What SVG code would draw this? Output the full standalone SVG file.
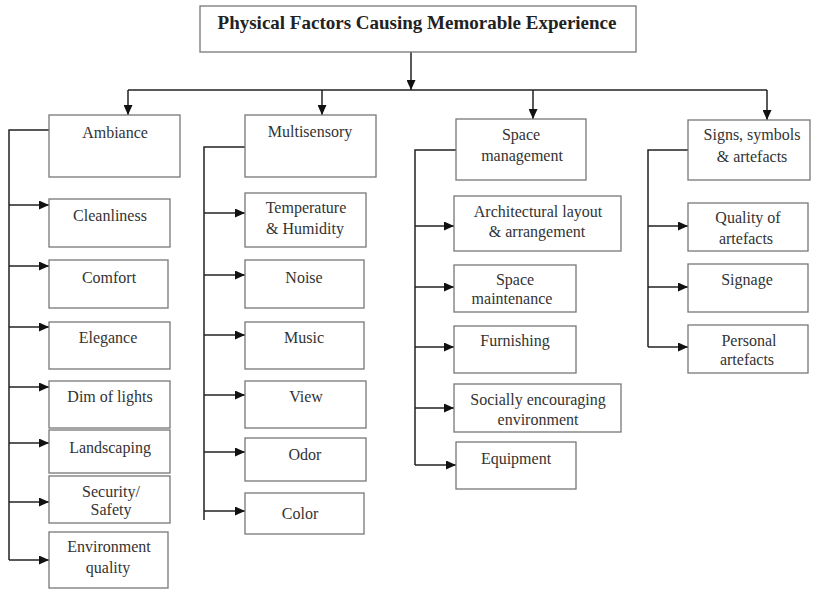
<svg xmlns="http://www.w3.org/2000/svg" width="815" height="589" viewBox="0 0 815 589">
<style>
.box{fill:#fff;stroke:#777;stroke-width:1.3}
.t{font-family:"Liberation Serif","Times New Roman",serif;font-size:16px;fill:#333;text-anchor:middle}
.title{font-family:"Liberation Serif","Times New Roman",serif;font-size:19px;font-weight:bold;fill:#222;text-anchor:middle}
.c{fill:none;stroke:#222;stroke-width:1.5}
.a{marker-end:url(#ah)}
</style>
<defs>
<marker id="ah" markerUnits="userSpaceOnUse" markerWidth="10" markerHeight="9" refX="10" refY="4.5" orient="auto" viewBox="0 0 10 9">
<path d="M0,0 L10,4.5 L0,9 z" fill="#111"/>
</marker>
</defs>
<rect width="815" height="589" fill="#fff"/>
<g id="connectors">
<path class="c a" d="M411,52 V90"/>
<path class="c" d="M128,90 H767"/>
<path class="c a" d="M128,90 V115"/>
<path class="c a" d="M322,90 V115"/>
<path class="c a" d="M533,90 V119"/>
<path class="c a" d="M767,90 V120"/>
<path class="c" d="M49,130 H9 V560"/>
<path class="c a" d="M9,205 H49"/>
<path class="c a" d="M9,266 H49"/>
<path class="c a" d="M9,327 H49"/>
<path class="c a" d="M9,387 H49"/>
<path class="c a" d="M9,443 H49"/>
<path class="c a" d="M9,502 H49"/>
<path class="c a" d="M9,560 H49"/>
<path class="c" d="M245,147 H204 V520"/>
<path class="c a" d="M204,213 H245"/>
<path class="c a" d="M204,275 H245"/>
<path class="c a" d="M204,335 H245"/>
<path class="c a" d="M204,395 H245"/>
<path class="c a" d="M204,452 H245"/>
<path class="c a" d="M204,511 H245"/>
<path class="c" d="M456,150 H415 V465"/>
<path class="c a" d="M415,226 H454"/>
<path class="c a" d="M415,287 H454"/>
<path class="c a" d="M415,347 H454"/>
<path class="c a" d="M415,408 H454"/>
<path class="c a" d="M415,465 H456"/>
<path class="c" d="M688,150 H648 V347"/>
<path class="c a" d="M648,226 H688"/>
<path class="c a" d="M648,287 H688"/>
<path class="c a" d="M648,347 H688"/>
</g>
<g id="title"><rect class="box" x="200" y="6" width="436" height="46"/><text class="title" x="417" y="29">Physical Factors Causing Memorable Experience</text></g>
<g id="ambiance"><rect class="box" x="49" y="115" width="131" height="62"/><text class="t" x="115" y="138">Ambiance</text></g>
<g id="multisensory"><rect class="box" x="245" y="115" width="131" height="62"/><text class="t" x="310" y="137">Multisensory</text></g>
<g id="space-management"><rect class="box" x="456" y="119" width="130" height="61"/><text class="t" x="521" y="140">Space</text><text class="t" x="522" y="161">management</text></g>
<g id="signs"><rect class="box" x="688" y="120" width="122" height="60"/><text class="t" x="752" y="140">Signs, symbols</text><text class="t" x="752" y="162">&amp; artefacts</text></g>
<g id="cleanliness"><rect class="box" x="49" y="199" width="121" height="48"/><text class="t" x="110" y="221">Cleanliness</text></g>
<g id="comfort"><rect class="box" x="49" y="260" width="119" height="48"/><text class="t" x="109" y="283">Comfort</text></g>
<g id="elegance"><rect class="box" x="49" y="322" width="121" height="47"/><text class="t" x="108" y="343">Elegance</text></g>
<g id="dim-of-lights"><rect class="box" x="49" y="381" width="121" height="47"/><text class="t" x="110" y="402">Dim of lights</text></g>
<g id="landscaping"><rect class="box" x="49" y="430" width="121" height="43"/><text class="t" x="110" y="453">Landscaping</text></g>
<g id="security"><rect class="box" x="49" y="476" width="121" height="47"/><text class="t" x="111" y="497">Security/</text><text class="t" x="111" y="515">Safety</text></g>
<g id="environment-quality"><rect class="box" x="49" y="532" width="119" height="56"/><text class="t" x="109" y="552">Environment</text><text class="t" x="108" y="573">quality</text></g>
<g id="temperature"><rect class="box" x="245" y="193" width="121" height="54"/><text class="t" x="306" y="213">Temperature</text><text class="t" x="305" y="234">&amp; Humidity</text></g>
<g id="noise"><rect class="box" x="245" y="260" width="119" height="48"/><text class="t" x="304" y="283">Noise</text></g>
<g id="music"><rect class="box" x="245" y="322" width="119" height="47"/><text class="t" x="304" y="343">Music</text></g>
<g id="view"><rect class="box" x="245" y="381" width="121" height="47"/><text class="t" x="306" y="402">View</text></g>
<g id="odor"><rect class="box" x="245" y="438" width="121" height="43"/><text class="t" x="305" y="460">Odor</text></g>
<g id="color"><rect class="box" x="245" y="493" width="119" height="41"/><text class="t" x="300" y="519">Color</text></g>
<g id="architectural"><rect class="box" x="454" y="196" width="167" height="55"/><text class="t" x="538" y="217">Architectural layout</text><text class="t" x="537" y="237">&amp; arrangement</text></g>
<g id="space-maintenance"><rect class="box" x="454" y="265" width="122" height="47"/><text class="t" x="515" y="285">Space</text><text class="t" x="512" y="304">maintenance</text></g>
<g id="furnishing"><rect class="box" x="454" y="326" width="122" height="47"/><text class="t" x="515" y="346">Furnishing</text></g>
<g id="socially"><rect class="box" x="454" y="384" width="167" height="48"/><text class="t" x="538" y="405">Socially encouraging</text><text class="t" x="538" y="425">environment</text></g>
<g id="equipment"><rect class="box" x="456" y="442" width="120" height="47"/><text class="t" x="516" y="464">Equipment</text></g>
<g id="quality-of-artefacts"><rect class="box" x="688" y="203" width="120" height="48"/><text class="t" x="748" y="223">Quality of</text><text class="t" x="746" y="244">artefacts</text></g>
<g id="signage"><rect class="box" x="688" y="264" width="120" height="48"/><text class="t" x="747" y="285">Signage</text></g>
<g id="personal-artefacts"><rect class="box" x="688" y="325" width="120" height="48"/><text class="t" x="749" y="346">Personal</text><text class="t" x="747" y="365">artefacts</text></g>
</svg>
